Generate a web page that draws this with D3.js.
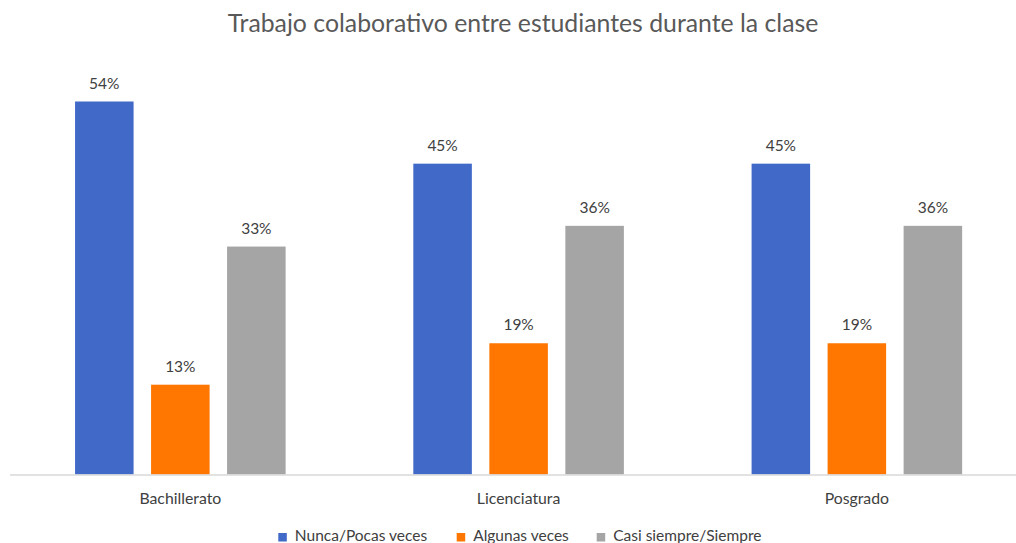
<!DOCTYPE html>
<html><head><meta charset="utf-8">
<script src="https://cdn.jsdelivr.net/npm/d3@7"></script>
<style>body{margin:0;background:#fff}svg{display:block}text{font-family:Lato,"Open Sans",sans-serif}</style>
</head><body><svg id="c" width="1016" height="543"></svg>
<script>
const title = "Trabajo colaborativo entre estudiantes durante la clase";
const categories = ["Bachillerato", "Licenciatura", "Posgrado"];
const seriesNames = ["Nunca/Pocas veces", "Algunas veces", "Casi siempre/Siempre"];
const nunca = [54, 45, 45];
const algunas = [13, 19, 19];
const casi = [33, 36, 36];
const colors = ["#4169C8", "#FF7700", "#A5A5A5"];

const seriesValues = [nunca, algunas, casi];
const svg = d3.select("#c");
const x0 = d3.scaleBand().domain(categories).range([11.2, 1026]).paddingInner(0).paddingOuter(0);
const x1 = d3.scaleBand().domain(seriesNames).range([0, x0.bandwidth()]).paddingInner(0.23).paddingOuter(0.84);
const y = d3.scaleLinear().domain([0, 54]).range([474.5, 101.5]);

const g = svg.append("g");
categories.forEach((c, ci) => {
  seriesNames.forEach((s, si) => {
    const v = seriesValues[si][ci];
    const bx = x0(c) + x1(s);
    g.append("rect").attr("x", bx).attr("y", y(v)).attr("width", x1.bandwidth()).attr("height", y(0) - y(v)).attr("fill", colors[si]);
    g.append("text").attr("x", bx + x1.bandwidth() / 2).attr("y", y(v) - 13).attr("text-anchor", "middle")
      .attr("font-size", 15.5).attr("fill", "#404040").text(v + "%");
  });
});
// axis
const ax = svg.append("g").attr("transform", `translate(0,${y(0)})`)
  .call(d3.axisBottom(x0).tickSize(0));
ax.select(".domain").attr("stroke", "#D9D9D9").attr("stroke-width", 1.3).attr("d", "M10,0.5H1016");
ax.selectAll(".tick text").attr("y", 29).attr("dy", null).attr("font-size", 15.8).attr("fill", "#404040")
  .style("font-family", "Lato,'Open Sans',sans-serif");

svg.append("text").attr("x", 523).attr("y", 32).attr("text-anchor", "middle").attr("font-size", 24.8)
  .attr("fill", "#595959").text(title);

const legX = [278.3, 456.7, 596.7];
seriesNames.forEach((s, i) => {
  svg.append("rect").attr("x", legX[i]).attr("y", 533).attr("width", 8.5).attr("height", 8.5).attr("fill", colors[i]);
  svg.append("text").attr("x", legX[i] + 16.5).attr("y", 541).attr("font-size", 15.5).attr("fill", "#404040").text(s);
});
</script></body></html>
